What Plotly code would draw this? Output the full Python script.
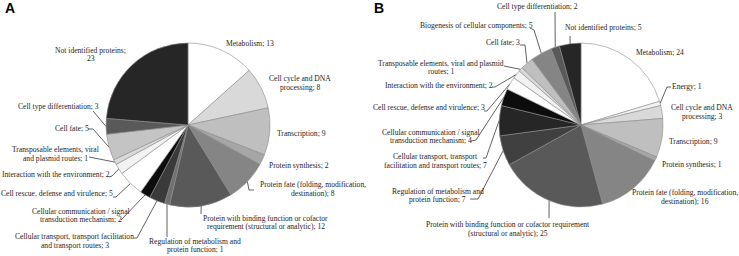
import plotly.graph_objects as go
import math

W, H = 739, 256

# ---------------- data ----------------
cats_a = ["Metabolism", "Cell cycle and DNA processing", "Transcription", "Protein synthesis",
          "Protein fate (folding, modification, destination)",
          "Protein with binding function or cofactor requirement (structural or analytic)",
          "Regulation of metabolism and protein function",
          "Cellular transport, transport facilitation and transport routes",
          "Cellular communication / signal transduction mechanism",
          "Cell rescue, defense and virulence", "Interaction with the environment",
          "Transposable elements, viral and plasmid routes", "Cell fate",
          "Cell type differentiation", "Not identified proteins"]
vals_a = [13, 8, 9, 2, 8, 12, 1, 3, 2, 5, 2, 1, 5, 3, 23]

cats_b = ["Metabolism", "Energy", "Cell cycle and DNA processing", "Transcription", "Protein synthesis",
          "Protein fate (folding, modification, destination)",
          "Protein with binding function or cofactor requirement (structural or analytic)",
          "Regulation of metabolism and protein function",
          "Cellular transport, transport facilitation and transport routes",
          "Cellular communication / signal transduction mechanism",
          "Cell rescue, defense and virulence", "Interaction with the environment",
          "Transposable elements, viral and plasmid routes", "Cell fate",
          "Biogenesis of cellular components", "Cell type differentiation",
          "Not identified proteins"]
vals_b = [24, 1, 3, 9, 1, 16, 25, 7, 7, 4, 3, 2, 1, 3, 5, 2, 5]

# label text lines (as printed in the figure)
lines_a = [["Metabolism; 13"], ["Cell cycle and DNA", "processing; 8"], ["Transcription; 9"],
           ["Protein synthesis; 2"], ["Protein fate (folding, modification,", "destination); 8"],
           ["Protein with binding function or cofactor", "requirement (structural or analytic); 12"],
           ["Regulation of metabolism and", "protein function; 1"],
           ["Cellular transport, transport facilitation", "and transport routes; 3"],
           ["Cellular communication / signal", "transduction mechanism; 2"],
           ["Cell rescue, defense and virulence; 5"], ["Interaction with the environment; 2"],
           ["Transposable elements, viral", "and plasmid routes; 1"], ["Cell fate; 5"],
           ["Cell type differentiation; 3"], ["Not identified proteins;", "23"]]
lines_b = [["Metabolism; 24"], ["Energy; 1"], ["Cell cycle and DNA", "processing; 3"], ["Transcription; 9"],
           ["Protein synthesis; 1"], ["Protein fate (folding, modification,", "destination); 16"],
           ["Protein with binding function or cofactor requirement", "(structural or analytic); 25"],
           ["Regulation of metabolism and", "protein function; 7"],
           ["Cellular transport, transport", "facilitation and transport routes; 7"],
           ["Cellular communication / signal", "transduction mechanism; 4"],
           ["Cell rescue, defense and virulence; 3"], ["Interaction with the environment; 2"],
           ["Transposable elements, viral and plasmid", "routes; 1"], ["Cell fate; 3"],
           ["Biogenesis of cellular components; 5"], ["Cell type differentiation; 2"],
           ["Not identified proteins; 5"]]

# ---------------- styles / layout ----------------
cols_a = ["#ffffff", "#d9d9d9", "#bfbfbf", "#a6a6a6", "#858585", "#595959", "#707070", "#3a3a3a",
          "#0d0d0d", "#ffffff", "#f2f2f2", "#d9d9d9", "#c4c4c4", "#595959", "#262626"]
cols_b = ["#ffffff", "#f2f2f2", "#d9d9d9", "#bfbfbf", "#a6a6a6", "#858585", "#595959", "#404040",
          "#262626", "#0d0d0d", "#ffffff", "#f2f2f2", "#d9d9d9", "#bfbfbf", "#858585", "#595959",
          "#262626"]

# pie geometry in pixels (center x, center y, radius)
pie_a = (188, 125, 82)
pie_b = (581, 125, 82)

# label line centers (x, y of first line), line spacing
LS = 8.6
pos_a = [(250, 43), (300, 78.5), (301, 133.5), (298.5, 165), (313, 184.8), (265.5, 218.3),
         (195, 241.3), (74.5, 236.7), (81, 211), (57, 193.3), (55.5, 174.3), (55, 149.5),
         (72, 128), (58, 106), (90.5, 50)]
pos_b = [(659.5, 52.3), (686.5, 86.7), (702, 107.5), (693, 141), (692, 164), (684.5, 192.7),
         (507.5, 224.7), (437.5, 191), (435, 156.8), (430.5, 132.3), (428.5, 107.3), (439, 85),
         (441, 63.3), (502.5, 42.7), (476, 25), (537.5, 6), (603.5, 27.7)]

# leader line start points (label side) and optional elbow; None = no leader
lead_a = [None, None, None, None, [(254, 190), (249, 190)], [(201, 214)], [(167, 237)],
          [(134, 238), (137, 238)], [(121, 220)], [(113, 197), (116, 197)],
          [(109, 177), (112, 176)], [(89, 157)], [(88, 129), (93, 129)], [(93, 111)], None]
lead_b = [None, [(671, 87), (667, 87)], None, None, None, None, [(549, 218)], [(470, 199), (478, 199)],
          [(483, 158), (486, 158)], [(471, 141), (476, 140)], [(484, 111), (487, 111)],
          [(492, 87), (495, 87)], [(504, 66)], [(520, 45), (525, 45)], [(530, 28), (534, 30)],
          [(555, 12)], [(570, 36)]]

FONT = "Liberation Serif, Times New Roman, serif"
FS = 7.6
TXT = "#1e1e1e"


def domain(cx, cy, r):
    return dict(x=[(cx - r) / W, (cx + r) / W], y=[1 - (cy + r) / H, 1 - (cy - r) / H])


def slice_points(vals, pie):
    cx, cy, r = pie
    tot = sum(vals)
    out, cum = [], 0
    for v in vals:
        mid = (cum + v / 2) / tot * 2 * math.pi
        out.append((cx + r * math.sin(mid), cy - r * math.cos(mid)))
        cum += v
    return out


fig = go.Figure()
for cats, vals, cols, pie in [(cats_a, vals_a, cols_a, pie_a), (cats_b, vals_b, cols_b, pie_b)]:
    fig.add_trace(go.Pie(labels=cats, values=vals, sort=False, direction="clockwise", rotation=0,
                         marker=dict(colors=cols, line=dict(color="#8c8c8c", width=0.6)),
                         textinfo="none", hoverinfo="label+value", showlegend=False,
                         domain=domain(*pie)))

# leader lines
for vals, pie, leads in [(vals_a, pie_a, lead_a), (vals_b, pie_b, lead_b)]:
    pts = slice_points(vals, pie)
    xs, ys = [], []
    for p, ld in zip(pts, leads):
        if ld is None:
            continue
        for (x, y) in ld:
            xs.append(x); ys.append(y)
        xs.append(p[0]); ys.append(p[1])
        xs.append(None); ys.append(None)
    fig.add_trace(go.Scatter(x=xs, y=ys, mode="lines", line=dict(color="#3a3a3a", width=0.8),
                             hoverinfo="skip", showlegend=False, xaxis="x", yaxis="y"))

annotations = []
for lines, pos in [(lines_a, pos_a), (lines_b, pos_b)]:
    for ls, (x, y) in zip(lines, pos):
        for i, t in enumerate(ls):
            annotations.append(dict(x=x, y=y + i * LS, xref="x", yref="y", text=t, showarrow=False,
                                    xanchor="center", yanchor="middle",
                                    font=dict(family=FONT, size=FS, color=TXT)))
for t, x in [("A", 3), ("B", 372)]:
    annotations.append(dict(x=x, y=8, xref="x", yref="y", text="<b>" + t + "</b>", showarrow=False,
                            xanchor="left", yanchor="middle",
                            font=dict(family="Liberation Sans, Arial, sans-serif", size=14, color="#000")))

fig.update_layout(
    width=W, height=H, margin=dict(l=0, r=0, t=0, b=0),
    paper_bgcolor="white", plot_bgcolor="rgba(0,0,0,0)",
    xaxis=dict(range=[0, W], visible=False, fixedrange=True, domain=[0, 1]),
    yaxis=dict(range=[H, 0], visible=False, fixedrange=True, domain=[0, 1]),
    annotations=annotations,
)

fig.write_html("out.html", config={"displayModeBar": False},
               post_script="document.body.style.margin='0';document.body.style.overflow='hidden';")
